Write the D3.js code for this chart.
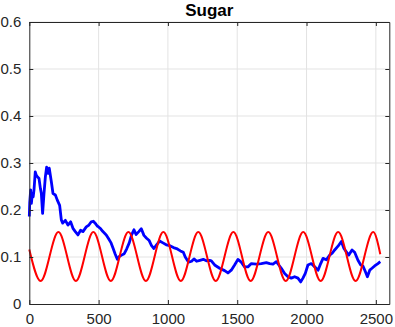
<!DOCTYPE html>
<html><head><meta charset="utf-8">
<script src="https://cdn.jsdelivr.net/npm/d3@7/dist/d3.min.js"></script>
<style>body{margin:0;background:#fff}svg{display:block}</style>
</head><body>
<svg id="c" width="395" height="327"></svg>
<script>
const title = "Sugar";
const xTicks = [0, 500, 1000, 1500, 2000, 2500];
const yTicks = [0, 0.1, 0.2, 0.3, 0.4, 0.5, 0.6];
const blueX = [0,3,10,15,22,28,34,43,50,58,70,80,87,96,106,116,125,135,144,159,171,188,202,219,231,241,260,279,298,315,332,351,370,387,411,430,447,462,475,490,500,515,531,555,570,590,605,620,635,649,666,685,702,721,738,755,770,790,808,827,846,865,882,899,918,940,964,988,1014,1040,1062,1090,1111,1125,1149,1171,1188,1207,1231,1255,1277,1301,1313,1337,1373,1409,1433,1457,1481,1505,1529,1553,1577,1602,1638,1674,1710,1734,1758,1782,1800,1818,1842,1866,1890,1914,1938,1958,1974,1991,2010,2034,2059,2083,2102,2119,2143,2167,2185,2203,2227,2251,2270,2287,2304,2328,2347,2371,2391,2407,2424,2439,2456,2472,2491,2515,2532];
const blueY = [0.186,0.215,0.243,0.214,0.235,0.228,0.243,0.281,0.274,0.271,0.267,0.246,0.235,0.193,0.235,0.271,0.291,0.278,0.289,0.260,0.235,0.232,0.221,0.210,0.179,0.172,0.178,0.168,0.175,0.161,0.154,0.147,0.157,0.154,0.164,0.168,0.175,0.176,0.172,0.166,0.164,0.160,0.154,0.147,0.140,0.130,0.118,0.106,0.095,0.101,0.104,0.107,0.117,0.130,0.147,0.158,0.148,0.154,0.160,0.146,0.140,0.135,0.124,0.118,0.126,0.134,0.130,0.126,0.124,0.120,0.118,0.113,0.110,0.100,0.089,0.091,0.096,0.091,0.093,0.095,0.092,0.093,0.092,0.083,0.076,0.071,0.066,0.072,0.083,0.095,0.089,0.079,0.079,0.086,0.085,0.086,0.088,0.086,0.085,0.090,0.083,0.076,0.065,0.058,0.055,0.058,0.055,0.047,0.055,0.065,0.083,0.086,0.079,0.072,0.086,0.097,0.094,0.104,0.108,0.115,0.123,0.133,0.118,0.111,0.104,0.115,0.110,0.093,0.083,0.081,0.069,0.058,0.072,0.076,0.081,0.086,0.090];
const redX = [0,82,210,336,462,588,715,841,967,1093,1219,1345,1472,1597,1724,1850,1976,2102,2228,2354,2481,2532];
const redY = [0.116,0.049,0.153,0.049,0.153,0.049,0.153,0.049,0.153,0.049,0.153,0.049,0.153,0.049,0.153,0.049,0.153,0.049,0.153,0.049,0.153,0.106];

const svg = d3.select("#c");
svg.append("rect").attr("width",395).attr("height",327).attr("fill","#fff");
const L = 29.3, R = 389.3, T = 22, B = 304;
const x = d3.scaleLinear().domain([0, 2597]).range([L, R]);
const y = d3.scaleLinear().domain([0, 0.6]).range([B, T]);
const font = "'Liberation Sans', Arial, Helvetica, sans-serif";

// grid
const g = svg.append("g");
g.selectAll(".gx").data(xTicks.filter(d=>d>0)).join("line")
  .attr("x1",d=>x(d)).attr("x2",d=>x(d)).attr("y1",T).attr("y2",B)
  .attr("stroke","#e3e3e3").attr("stroke-width",1);
g.selectAll(".gy").data(yTicks.filter(d=>d>0)).join("line")
  .attr("x1",L).attr("x2",R).attr("y1",d=>y(d)).attr("y2",d=>y(d))
  .attr("stroke","#e3e3e3").attr("stroke-width",1);

// lines
const blue = blueX.map((d,i)=>[d, blueY[i]]);
const red = redX.map((d,i)=>[d, redY[i]]);
const lineB = d3.line().x(d=>x(d[0])).y(d=>y(d[1]));
const lineR = d3.line().x(d=>x(d[0])).y(d=>y(d[1])).curve(d3.curveMonotoneX);
svg.append("path").attr("d",lineB(blue)).attr("fill","none")
  .attr("stroke","#0000ff").attr("stroke-width",2.8).attr("stroke-linejoin","round");
svg.append("path").attr("d",lineR(red)).attr("fill","none")
  .attr("stroke","#ff0000").attr("stroke-width",2);

// axes
const axCol = "#262626";
const ab = svg.append("g").attr("transform",`translate(0,${B})`)
  .call(d3.axisBottom(x).tickValues(xTicks).tickSizeInner(-4).tickSizeOuter(0).tickPadding(9).tickFormat(d3.format("d")));
const at = svg.append("g").attr("transform",`translate(0,${T})`)
  .call(d3.axisTop(x).tickValues(xTicks).tickSizeInner(-4).tickSizeOuter(0).tickFormat(""));
const al = svg.append("g").attr("transform",`translate(${L},0)`)
  .call(d3.axisLeft(y).tickValues(yTicks).tickSizeInner(-4).tickSizeOuter(0).tickPadding(8).tickFormat(d=>d===0?"0":d3.format(".1f")(d)));
const ar = svg.append("g").attr("transform",`translate(${R},0)`)
  .call(d3.axisRight(y).tickValues(yTicks).tickSizeInner(-4).tickSizeOuter(0).tickFormat(""));
[ab,at,al,ar].forEach(a=>{
  a.select(".domain").attr("stroke",axCol).attr("stroke-width",1);
  a.selectAll(".tick line").attr("stroke",axCol);
  a.selectAll("text").attr("fill",axCol).style("font-family",font).style("font-size","15px");
});

svg.append("text").attr("x",(L+R)/2).attr("y",16).attr("text-anchor","middle")
  .style("font-family",font).style("font-size","17px").style("font-weight","bold")
  .attr("fill","#000").text(title);
</script>
</body></html>
